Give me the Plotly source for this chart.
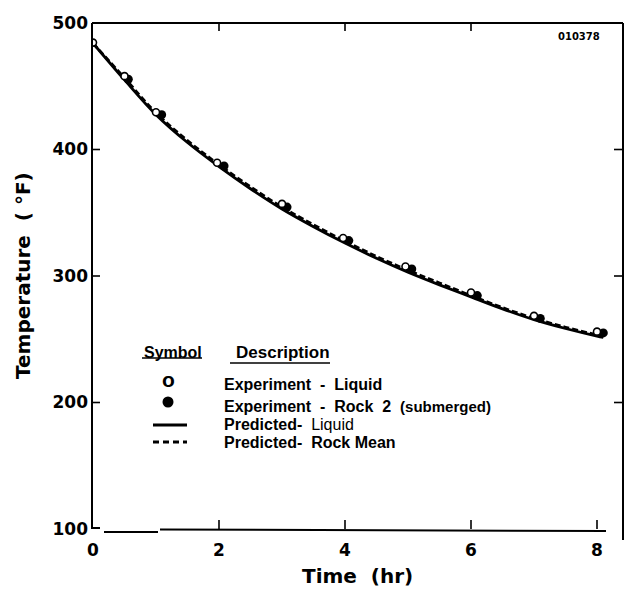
import plotly.graph_objects as go

# Measured temperatures (deg F) versus time (hr)
liquid_time = [0, 0.5, 1, 1.97, 3, 3.97, 4.96, 6, 7, 8]
liquid_temp = [484.5, 458, 429.5, 389.5, 357, 330, 307.5, 287, 268.5, 256]

rock_time = [0.56, 1.09, 2.08, 3.08, 4.06, 5.06, 6.1, 7.1, 8.1]
rock_temp = [455.5, 427.5, 387, 354.5, 328, 305.5, 284.5, 266.5, 255]

# Predicted cooling curves
pred_time = [0, 0.5, 1, 1.5, 2, 2.5, 3, 3.5, 4, 4.5, 5, 5.5, 6, 6.5, 7, 7.5, 8, 8.1]
pred_liquid = [484, 455, 427.5, 405.5, 386.5, 369, 353, 339, 326, 314, 303, 293,
               283.5, 274, 265.5, 258.5, 252.5, 251.5]
pred_rock = [484, 456.5, 429, 407, 388, 370.5, 354.5, 340.5, 327.5, 315.5, 304.5,
             294.5, 284.5, 275, 266.5, 259.5, 253.5, 252.5]

x_ticks = [0, 2, 4, 6, 8]
y_ticks = [100, 200, 300, 400, 500]

W, H = 626, 592
ML, MR, MT, MB = 92, 3, 23, 63
PW, PH = W - ML - MR, H - MT - MB
PX_PER_HR = 63.0
x_range = [-1 / PX_PER_HR, (PW - 1) / PX_PER_HR]


def px(x):
    return (x - ML) / PW


def py(y):
    return (H - MB - y) / PH


fig = go.Figure()

fig.add_trace(go.Scatter(x=pred_time, y=pred_liquid, mode="lines",
                         line=dict(color="black", width=2.8, shape="spline"),
                         name="Predicted- Liquid", hoverinfo="skip"))
fig.add_trace(go.Scatter(x=pred_time, y=pred_rock, mode="lines",
                         line=dict(color="black", width=2.8, dash="6px,3px", shape="spline"),
                         name="Predicted- Rock Mean", hoverinfo="skip"))
fig.add_trace(go.Scatter(x=rock_time, y=rock_temp, mode="markers",
                         marker=dict(symbol="circle", size=9, color="black"),
                         name="Experiment - Rock 2 (submerged)"))
fig.add_trace(go.Scatter(x=liquid_time, y=liquid_temp, mode="markers",
                         marker=dict(symbol="circle", size=7, color="white",
                                     line=dict(color="black", width=1.6)),
                         name="Experiment - Liquid"))

shapes = []
LW = 2
# frame
shapes.append(dict(type="line", xref="paper", yref="paper", x0=0, x1=0, y0=0, y1=1,
                   line=dict(color="black", width=LW)))
shapes.append(dict(type="line", xref="paper", yref="paper", x0=0, x1=1, y0=1, y1=1,
                   line=dict(color="black", width=LW)))
shapes.append(dict(type="line", xref="paper", yref="paper", x0=1, x1=1, y0=1, y1=py(540),
                   line=dict(color="black", width=LW)))
shapes.append(dict(type="line", xref="paper", yref="paper", x0=px(104), x1=px(158),
                   y0=py(532), y1=py(532), line=dict(color="black", width=LW)))
shapes.append(dict(type="line", xref="paper", yref="paper", x0=px(160), x1=px(606),
                   y0=py(529.5), y1=py(531), line=dict(color="black", width=LW)))
shapes.append(dict(type="line", xref="paper", yref="paper", x0=0, x1=px(100),
                   y0=py(528), y1=py(528), line=dict(color="black", width=LW)))
# x ticks
for t in x_ticks[1:]:
    shapes.append(dict(type="line", xref="x", yref="paper", ysizemode="pixel", yanchor=0,
                       x0=t, x1=t, y0=0, y1=9, line=dict(color="black", width=1.6)))
for t in x_ticks[1:4]:
    shapes.append(dict(type="line", xref="x", yref="paper", ysizemode="pixel", yanchor=1,
                       x0=t, x1=t, y0=0, y1=-8, line=dict(color="black", width=1.6)))
# y ticks
for v in y_ticks[1:4]:
    shapes.append(dict(type="line", xref="paper", yref="y", xsizemode="pixel", xanchor=0,
                       x0=0, x1=8, y0=v, y1=v, line=dict(color="black", width=1.6)))
    shapes.append(dict(type="line", xref="paper", yref="y", xsizemode="pixel", xanchor=1,
                       x0=0, x1=-9, y0=v, y1=v, line=dict(color="black", width=1.6)))

# key: underlines, filled dot, line samples
shapes.append(dict(type="line", xref="paper", yref="paper", x0=px(142), x1=px(202),
                   y0=py(358), y1=py(358), line=dict(color="black", width=1.5)))
shapes.append(dict(type="line", xref="paper", yref="paper", x0=px(230), x1=px(330),
                   y0=py(363), y1=py(363), line=dict(color="black", width=1.5)))
shapes.append(dict(type="circle", xref="paper", yref="paper", xsizemode="pixel",
                   ysizemode="pixel", xanchor=px(168), yanchor=py(402),
                   x0=-5.5, x1=5.5, y0=-5.5, y1=5.5, fillcolor="black",
                   line=dict(color="black", width=0)))
shapes.append(dict(type="line", xref="paper", yref="paper", x0=px(153), x1=px(187),
                   y0=py(425), y1=py(425), line=dict(color="black", width=3)))
shapes.append(dict(type="line", xref="paper", yref="paper", x0=px(153), x1=px(187),
                   y0=py(442), y1=py(442), line=dict(color="black", width=3, dash="6px,4px")))

SANS = "Liberation Sans, Arial, sans-serif"
DJ = "DejaVu Sans, sans-serif"
annotations = []


def note(text, x, y, size, family=SANS, xanchor="left", angle=0):
    annotations.append(dict(text=text, xref="paper", yref="paper", x=px(x), y=py(y),
                            xanchor=xanchor, yanchor="middle", showarrow=False,
                            textangle=angle, font=dict(size=size, family=family, color="black")))


note("<b>Symbol</b>", 142, 352, 16)
note("<b>Description</b>", 234, 352, 17)
note("<b>o</b>", 168, 380, 21, xanchor="center")
note("<b>Experiment  -  Liquid</b>", 222, 384, 16)
note("<b>Experiment  -  Rock  2</b>  <b><span style='font-size:15px'>(submerged)</span></b>",
     222, 406, 16)
note("<b>Predicted- </b> Liquid", 222, 424, 16)
note("<b>Predicted-  Rock Mean</b>", 222, 442, 16)
note("<b>010378</b>", 579, 37, 10, family=DJ, xanchor="center")
note("<b>Time  (hr)</b>", 357, 576, 20, family=DJ, xanchor="center")
note("<b>Temperature  ( °F)</b>", 23, 276, 20, family=DJ, xanchor="center", angle=-90)

fig.update_layout(
    width=W, height=H,
    margin=dict(l=ML, r=MR, t=MT, b=MB, pad=0),
    paper_bgcolor="white", plot_bgcolor="white",
    showlegend=False,
    shapes=shapes,
    annotations=annotations,
    xaxis=dict(range=x_range, tickvals=x_ticks, ticktext=[str(v) for v in x_ticks],
               showgrid=False, zeroline=False, showline=False, ticks="",
               ticklabelstandoff=9,
               tickfont=dict(family=DJ, size=17, color="black", weight="bold")),
    yaxis=dict(range=[100, 500], tickvals=y_ticks, ticktext=[str(v) for v in y_ticks],
               showgrid=False, zeroline=False, showline=False, ticks="",
               ticklabelstandoff=3,
               tickfont=dict(family=DJ, size=17, color="black", weight="bold")),
)

fig.write_html("out.html")
